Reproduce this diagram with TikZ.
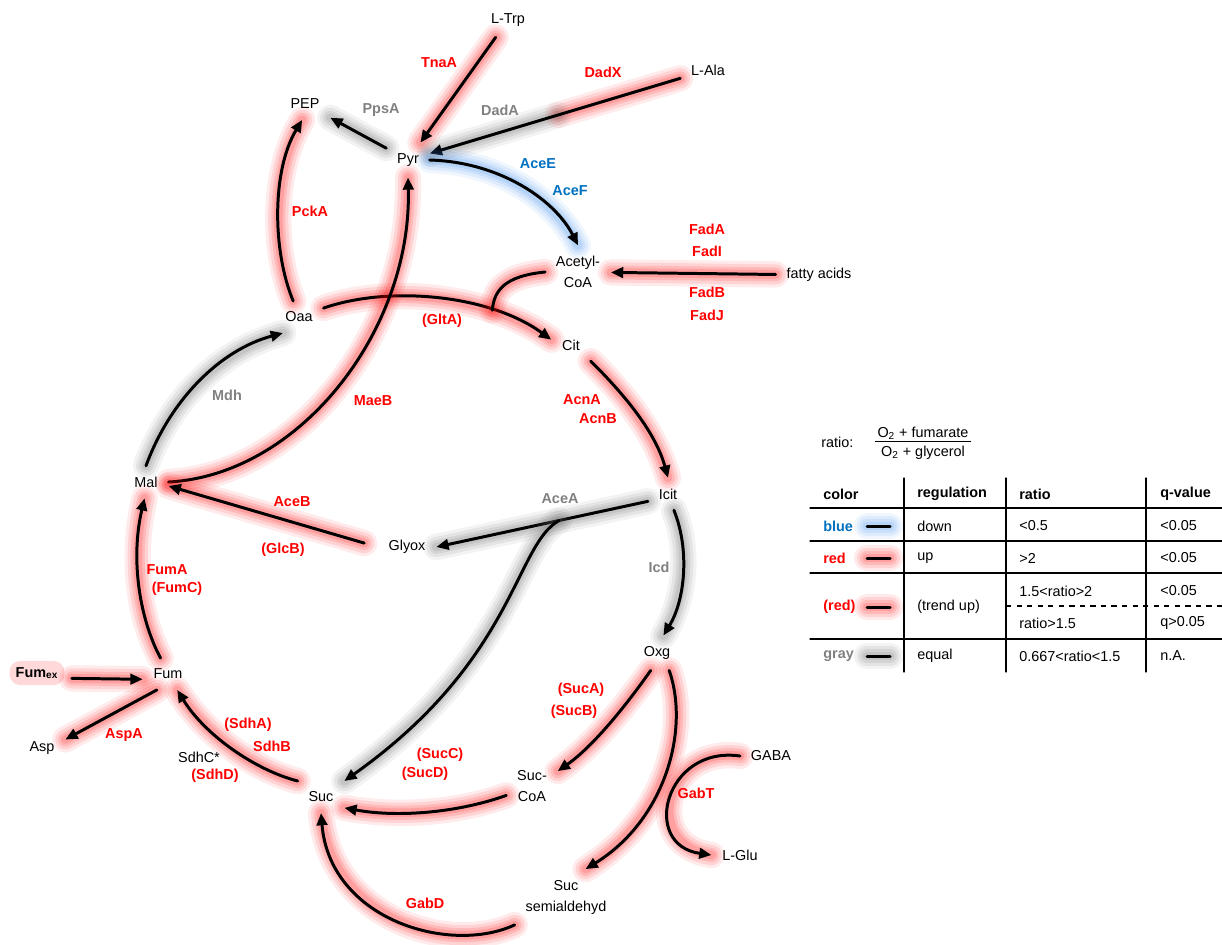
\documentclass[tikz,border=0pt]{standalone}
\usepackage{fontspec}
\setmainfont{Liberation Sans}
\usetikzlibrary{arrows.meta,calc}
\definecolor{upred}{RGB}{255,0,0}
\definecolor{downblue}{RGB}{0,112,192}
\definecolor{eqgray}{RGB}{128,128,128}
\definecolor{glowblue}{RGB}{60,140,235}
\definecolor{glowgray}{RGB}{100,100,100}
\tikzset{
  glow/.style={preaction={draw=#1,-,line width=15pt,opacity=.08,line cap=round},
               preaction={draw=#1,-,line width=11.5pt,opacity=.1,line cap=round},
               preaction={draw=#1,-,line width=8pt,opacity=.12,line cap=round},
               preaction={draw=#1,-,line width=5pt,opacity=.14,line cap=round}},
  arr/.style={draw, line width=1.7pt, -{Triangle[length=7pt,width=6pt]}},
  met/.style={inner sep=6pt, align=center},
  enzr/.style={font=\bfseries, text=upred},
  enzg/.style={font=\bfseries, text=eqgray},
  enzb/.style={font=\bfseries, text=downblue},
  tab/.style={anchor=west, inner sep=0pt}
}
\begin{document}
\fontsize{8.2}{11.9}\selectfont
\begin{tikzpicture}[x=0.02cm, y=-0.02cm, line join=round, line cap=round]
	\useasboundingbox (0,0) rectangle (1222,944);
	
	\node[met] (Trp) at (508,20) {L-Trp};
	\node[met] (Ala) at (708,70) {L-Ala};
	\node[met] (PEP) at (305,104) {PEP};
	\node[met] (Pyr) at (408,160) {Pyr};
	\node[met] (AcCoA) at (578,272) {Acetyl-\\CoA};
	\node[met] (FA) at (819,275) {fatty acids};
	\node[met] (Oaa) at (299,317) {Oaa};
	\node[met] (Cit) at (571,345) {Cit};
	\node[met] (Mal) at (146,482) {Mal};
	\node[met] (Icit) at (668,494) {Icit};
	\node[met] (Glyox) at (407,547) {Glyox};
	\node[met] (Oxg) at (657,653) {Oxg};
	\node[met] (Fum) at (168,674) {Fum};
	\node[fill=red, fill opacity=.15, text opacity=1, rounded corners=6pt, inner sep=3.5pt] (Fumex) at (37,673) {\bfseries Fum\textsubscript{ex}};
	\node[met] (Asp) at (42,748) {Asp};
	\node[met] (Suc) at (321,797) {Suc};
	\node[met] (SucCoA) at (532,786) {Suc-\\CoA};
	\node[met] (GABA) at (771,756) {GABA};
	\node[met] (Glu) at (740,855) {L-Glu};
	\node[met] (SSA) at (566,897) {Suc\\semialdehyd};
	
	\draw[arr, glow=red] (Trp) -- (Pyr);
	\coordinate (dadsplit) at ($(Ala)!0.5!(Pyr)$);
	\path[glow=red] (Ala) -- (dadsplit);
	\path[glow=glowgray] (dadsplit) -- (Pyr);
	\draw[arr] (Ala) -- (Pyr);
	\draw[arr, glow=glowgray] (Pyr) -- (PEP);
	\draw[arr, glow=red] (Oaa.110) .. controls (272,250) and (272,170) .. (PEP.260);
	\draw[arr, glow=glowblue] (Pyr.east) .. controls (500,162) and (555,200) .. (AcCoA.north);
	\draw[arr, glow=red] (FA) -- (AcCoA);
	\draw[arr, glow=red] (Oaa.20) .. controls (390,285) and (490,295) .. coordinate[pos=.72] (join) (Cit.165);
	\draw[line width=1.7pt, glow=red] (AcCoA.west) .. controls (505,276) and (494,290) .. (join);
	\draw[arr, glow=red] (Mal.east) .. controls (300,475) and (412,330) .. (Pyr.south);
	\draw[arr, glow=glowgray] (Mal.north) .. controls (170,400) and (220,350) .. (Oaa.225);
	\draw[arr, glow=red] (Cit.south east) .. controls (620,390) and (655,430) .. (Icit.north);
	\draw[arr, glow=glowgray] (Icit.-70) .. controls (690,550) and (685,600) .. (Oxg.70);
	\draw[arr, glow=glowgray] (Icit.200) -- coordinate[pos=.42] (aceabr) (Glyox.east);
	\draw[arr, glow=glowgray] (aceabr) .. controls (515,545) and (515,660) .. (Suc.north east);
	\draw[arr, glow=red, shorten <=8pt] (Glyox.west) -- (Mal.-10);
	\draw[arr, glow=red] (Fum.115) .. controls (140,620) and (130,560) .. (Mal.265);
	\draw[arr, glow=red, shorten <=4pt] ([yshift=-3pt]Fumex.east) -- ([yshift=-3pt]Fum.west);
	\draw[arr, glow=red] (Fum.235) -- (Asp.20);
	\draw[arr, glow=red] (Suc.north west) .. controls (255,770) and (205,735) .. (Fum.-60);
	\draw[arr, glow=red] (Oxg.-110) .. controls (630,700) and (595,745) .. (SucCoA.30);
	\draw[arr, glow=red] (SucCoA.200) .. controls (460,812) and (400,818) .. (Suc.-25);
	\draw[arr, glow=red] (Oxg.-55) .. controls (690,730) and (665,820) .. (SSA.55);
	\draw[arr, glow=red] (GABA.west) .. controls (665,745) and (640,845) .. (Glu.west);
	\draw[arr, glow=red] (SSA.south west) .. controls (450,955) and (330,920) .. (Suc.south);
	
	\node[enzr] (tnaA) at (439,63) {TnaA};
	\node[enzr] (dadX) at (603,72) {DadX};
	\node[enzg] (ppsA) at (381,110) {PpsA};
	\node[enzg] (dadA) at (500,110) {DadA};
	\node[enzb] (aceE) at (538,164) {AceE};
	\node[enzb] (aceF) at (570,191) {AceF};
	\node[enzr] (pckA) at (310,211) {PckA};
	\node[enzr] (fadA) at (707,229) {FadA};
	\node[enzr] (fadI) at (707,251) {FadI};
	\node[enzr] (fadB) at (707,292) {FadB};
	\node[enzr] (fadJ) at (707,315) {FadJ};
	\node[enzr] (gltA) at (442,321) {(GltA)};
	\node[enzg] (mdh) at (227,395) {Mdh};
	\node[enzr] (maeB) at (373,401) {MaeB};
	\node[enzr] (acnA) at (582,400) {AcnA};
	\node[enzr] (acnB) at (598,419) {AcnB};
	\node[enzg] (aceA) at (560,499) {AceA};
	\node[enzr] (aceB) at (292,502) {AceB};
	\node[enzr] (glcB) at (283,550) {(GlcB)};
	\node[enzg] (icd) at (659,567) {Icd};
	\node[enzr] (fumA) at (167,570) {FumA};
	\node[enzr] (fumC) at (177,589) {(FumC)};
	\node[enzr] (sucA) at (581,690) {(SucA)};
	\node[enzr] (sucB) at (574,712) {(SucB)};
	\node[enzr] (aspA) at (124,735) {AspA};
	\node[enzr] (sdhA) at (248,725) {(SdhA)};
	\node[enzr] (sdhB) at (272,746) {SdhB};
	\node (sdhC) at (199,757) {SdhC*};
	\node[enzr] (sdhD) at (215,776) {(SdhD)};
	\node[enzr] (sucC) at (440,755) {(SucC)};
	\node[enzr] (sucD) at (425,774) {(SucD)};
	\node[enzr] (gabT) at (696,793) {GabT};
	\node[enzr] (gabD) at (425,903) {GabD};
	
	% legend
	\node[tab] (ratiolbl) at (821,442) {ratio:};
	\node[inner sep=1pt] (fnum) at (923,433) {O\textsubscript{2} + fumarate};
	\node[inner sep=1pt] (fden) at (923,453) {O\textsubscript{2} + glycerol};
	\draw[line width=0.6pt] (fnum.south west) -- (fnum.south east);
	
	\draw[line width=0.7pt] (904,478) -- (904,672) (1006,478) -- (1006,672) (1146,478) -- (1146,672);
	\draw[line width=0.7pt] (810,508) -- (1222,508) (810,541) -- (1222,541) (810,573) -- (1222,573) (810,639) -- (1222,639);
	\draw[line width=0.7pt, dashed, line cap=butt] (1006,606) -- (1222,606);
	
	\node[tab, font=\bfseries] (hcol) at (823,494) {color};
	\node[tab, font=\bfseries] (hreg) at (917,494) {regulation};
	\node[tab, font=\bfseries] (hrat) at (1019,494) {ratio};
	\node[tab, font=\bfseries] (hq) at (1160,494) {q-value};
	
	\node[tab, font=\bfseries, text=downblue] (lblue) at (823,526) {blue};
	\draw[line width=1.7pt, glow=glowblue] (867,526) -- (890,526);
	\node[tab] at (917,526) {down};
	\node[tab] at (1019,526) {<0.5};
	\node[tab] at (1160,526) {<0.05};
	
	\node[tab, font=\bfseries, text=upred] (lred) at (823,558) {red};
	\draw[line width=1.7pt, glow=red] (867,558) -- (890,558);
	\node[tab] at (917,558) {up};
	\node[tab] at (1019,558) {>2};
	\node[tab] at (1160,558) {<0.05};
	
	\node[tab, font=\bfseries, text=upred] (ltrend) at (823,607) {(red)};
	\draw[line width=1.7pt, glow=red] (867,607) -- (890,607);
	\node[tab] at (917,607) {(trend up)};
	\node[tab] at (1019,591) {1.5<ratio>2};
	\node[tab] at (1160,591) {<0.05};
	\node[tab] at (1019,623) {ratio>1.5};
	\node[tab] at (1160,623) {q>0.05};
	
	\node[tab, font=\bfseries, text=eqgray] (lgray) at (823,656) {gray};
	\draw[line width=1.7pt, glow=glowgray] (867,656) -- (890,656);
	\node[tab] at (917,656) {equal};
	\node[tab] at (1019,656) {0.667<ratio<1.5};
	\node[tab] at (1160,656) {n.A.};
\end{tikzpicture}
\end{document}
